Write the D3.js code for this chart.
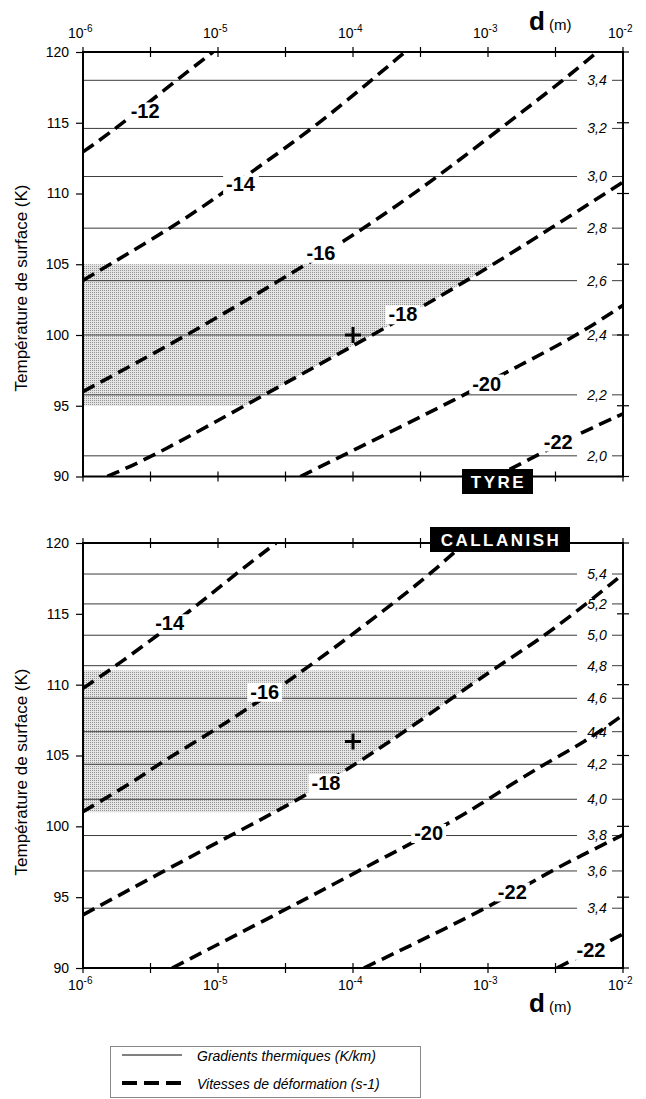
<!DOCTYPE html>
<html>
<head>
<meta charset="utf-8">
<script src="https://cdnjs.cloudflare.com/ajax/libs/d3/7.8.5/d3.min.js"></script>
<style>
  body { margin: 0; background: #fff; }
  svg { display: block; font-family: "Liberation Sans", Arial, Helvetica, sans-serif; }
</style>
</head>
<body>
<div id="chart"></div>
<script>
// axes: exponents of d (m), temperatures (K)
const decades = [-6, -5, -4, -3, -2];
const halfDecades = [-5.5, -4.5, -3.5, -2.5];
const tempTicks = [90, 95, 100, 105, 110, 115, 120];

// TYRE : gradients thermiques (K/km)
const tyreGradT = [118.0, 114.6, 111.2, 107.55, 103.84, 100.0, 95.77, 91.46];
const tyreGradLabels = ["3,4", "3,2", "3,0", "2,8", "2,6", "2,4", "2,2", "2,0"];
// TYRE : vitesses de deformation, [log10 d, T]
const tyreRates = ["-12", "-14", "-16", "-18", "-20", "-22"];
const tyreCurves = [
  [[-6, 112.94], [-5.753, 114.6], [-5.259, 118.37], [-5.037, 120]],
  [[-6, 103.86], [-5.333, 107.64], [-4.987, 109.88], [-4.716, 111.77], [-4.296, 114.6], [-3.876, 117.9], [-3.615, 120]],
  [[-6, 96.0], [-5.24, 99.9], [-4.543, 103.86], [-4.05, 106.7], [-3.654, 109.29], [-3.37, 111.2], [-2.44, 118.0], [-2.19, 120]],
  [[-5.82, 90], [-5.46, 91.5], [-4.66, 95.77], [-3.87, 99.9], [-3.15, 103.84], [-2.53, 107.57], [-2.0, 110.8]],
  [[-4.39, 90], [-4.08, 91.46], [-3.17, 95.77], [-2.77, 97.85], [-2.35, 99.9], [-2.0, 102.1]],
  [[-2.84, 90.5], [-2.615, 91.6], [-2.33, 93.0], [-2.0, 94.43]]
];
const tyreRateLabelAt = [[-5.54, 115.8], [-4.833, 110.66], [-4.237, 105.81], [-3.63, 101.46], [-3.01, 96.57], [-2.48, 92.47]];
const tyreShade = [95, 105];
const tyrePoint = [-4, 100];

// CALLANISH
const callGradT = [117.81, 115.7, 113.49, 111.34, 109.04, 106.68, 104.38, 101.91, 99.35, 96.85, 94.22];
const callGradLabels = ["5,4", "5,2", "5,0", "4,8", "4,6", "4,4", "4,2", "4,0", "3,8", "3,6", "3,4"];
const callRates = ["-14", "-16", "-18", "-20", "-22", "-22"];
const callCurves = [
  [[-6, 109.75], [-5.778, 111.16], [-5.21, 115.15], [-4.864, 117.86], [-4.57, 120]],
  [[-6, 101.04], [-5.605, 103.27], [-5.432, 104.45], [-5.062, 106.57], [-4.815, 108.1], [-4.481, 110.21], [-4.025, 113.39], [-3.654, 116.1], [-3.43, 117.81], [-3.17, 120]],
  [[-6, 93.75], [-5.40, 96.85], [-4.907, 99.35], [-4.36, 102.1], [-4.05, 103.98], [-3.63, 106.57], [-2.93, 111.34], [-2.56, 113.5], [-2.0, 117.8]],
  [[-5.34, 90], [-4.48, 94.22], [-3.96, 96.85], [-3.26, 100.33], [-3.0, 101.91], [-2.59, 104.38], [-2.29, 105.9], [-2.0, 107.86]],
  [[-3.92, 90], [-3.0, 94.22], [-2.59, 96.57], [-2.3, 97.98], [-2.0, 99.4]],
  [[-2.49, 90], [-2.0, 92.4]]
];
const callRateLabelAt = [[-5.358, 114.33], [-4.654, 109.5], [-4.2, 103.06], [-3.44, 99.53], [-2.82, 95.4], [-2.237, 91.28]];
const callShade = [101, 111];
const callPoint = [-4, 105.98];

const legendItems = ["Gradients thermiques (K/km)", "Vitesses de déformation (s-1)"];

const width = 646, height = 1099;
const svg = d3.select("#chart").append("svg").attr("width", width).attr("height", height);

const defs = svg.append("defs");
const pat = defs.append("pattern").attr("id", "dots")
  .attr("patternUnits", "userSpaceOnUse").attr("width", 2).attr("height", 2);
pat.append("rect").attr("width", 2).attr("height", 2).attr("fill", "#e4e4e4");
pat.append("rect").attr("width", 1).attr("height", 1).attr("fill", "#949494");

const x = d3.scaleLog().domain([1e-6, 1e-2]).range([83, 623]);
const yTop = d3.scaleLinear().domain([90, 120]).range([476.5, 52]);
const yBot = d3.scaleLinear().domain([90, 120]).range([968, 543]);

function drawPanel(y, o) {
  const [x0, x1] = x.range();
  const [yb, yt] = y.range();
  const g = svg.append("g");
  const line = d3.line().x(p => x(10 ** p[0])).y(p => y(p[1])).curve(d3.curveBasis);

  defs.append("clipPath").attr("id", "clip-" + o.id)
    .append("rect").attr("x", x0).attr("y", yt).attr("width", x1 - x0).attr("height", yb - yt);

  // zone grisee : entre les deux temperatures, a gauche de la courbe -18
  const region = line(o.curves[o.shadeEdge]) + `L${x1},${yt}L${x0},${yt}L${x0},${yb}Z`;
  defs.append("clipPath").attr("id", "shade-" + o.id).append("path").attr("d", region);
  g.append("rect")
    .attr("x", x0).attr("width", x1 - x0)
    .attr("y", y(o.shade[1])).attr("height", y(o.shade[0]) - y(o.shade[1]))
    .attr("fill", "url(#dots)")
    .attr("clip-path", `url(#shade-${o.id})`);

  // gradients thermiques
  o.grad.forEach((t, i) => {
    g.append("path")
      .attr("d", `M${x0},${y(t)}H577M612,${y(t)}H${x1}`)
      .attr("stroke", "#3a3a3a").attr("stroke-width", 1).attr("fill", "none");
    g.append("text")
      .attr("x", 597).attr("y", y(t)).attr("dy", "0.35em")
      .attr("text-anchor", "middle")
      .style("font-size", "14px").style("font-style", "italic")
      .text(o.gradLabels[i]);
  });

  // vitesses de deformation
  g.append("g").attr("clip-path", `url(#clip-${o.id})`)
    .selectAll("path").data(o.curves).join("path")
    .attr("d", line)
    .attr("fill", "none").attr("stroke", "#000")
    .attr("stroke-width", 3.6).attr("stroke-dasharray", "13,7");

  o.rates.forEach((r, i) => {
    const p = o.rateAt[i];
    const lg = g.append("g");
    const t = lg.append("text")
      .attr("x", x(10 ** p[0])).attr("y", y(p[1])).attr("dy", "0.35em")
      .attr("text-anchor", "middle")
      .style("font-size", "20px").style("font-weight", "bold")
      .text(r);
    const b = t.node().getBBox();
    lg.insert("rect", "text")
      .attr("x", b.x - 3).attr("y", b.y + 2).attr("width", b.width + 6).attr("height", b.height - 3)
      .attr("fill", "#fff");
  });

  // point
  const cx = x(10 ** o.point[0]), cy = y(o.point[1]);
  g.append("path").attr("d", `M${cx - 8},${cy}h16M${cx},${cy - 8}v16`)
    .attr("stroke", "#000").attr("stroke-width", 3);

  // cadre
  g.append("rect").attr("x", x0).attr("y", yt).attr("width", x1 - x0).attr("height", yb - yt)
    .attr("fill", "none").attr("stroke", "#000").attr("stroke-width", 2);

  // graduations
  const xt = decades.concat(halfDecades).map(e => x(10 ** e));
  [yt, yb].forEach(yy => {
    g.append("g").selectAll("line").data(xt).join("line")
      .attr("x1", d => d).attr("x2", d => d).attr("y1", yy - 5).attr("y2", yy + 5)
      .attr("stroke", "#000").attr("stroke-width", 1.2);
  });
  g.append("g").selectAll("line").data(tempTicks).join("line")
    .attr("x1", x1 - 6).attr("x2", x1 + 6).attr("y1", d => y(d)).attr("y2", d => y(d))
    .attr("stroke", "#000").attr("stroke-width", 1.2);

  const ax = g.append("g").attr("transform", `translate(${x0},0)`)
    .call(d3.axisLeft(y).tickValues(tempTicks).tickSize(7).tickPadding(7).tickSizeOuter(0));
  ax.select(".domain").remove();
  ax.selectAll("line").attr("stroke-width", 1.2);
  ax.selectAll("text").style("font-size", "14px").style("font-family", "inherit");

  // etiquettes de d
  const top = o.labelSide === "top";
  const base = top ? yt - 14 : yb + 22;
  decades.forEach(e => {
    const t = g.append("text").attr("x", x(10 ** e) - 15).attr("y", base).style("font-size", "14px");
    t.append("tspan").text("10");
    t.append("tspan").attr("dy", -6).style("font-size", "10px").text(String(e));
  });
  const dl = g.append("text").attr("x", 529).attr("y", top ? 30 : 1012);
  dl.append("tspan").style("font-size", "26px").style("font-weight", "bold").text("d");
  dl.append("tspan").attr("dx", 4).style("font-size", "15px").text("(m)");

  // titre de l'axe vertical
  g.append("text")
    .attr("transform", `translate(27,${o.titleY}) rotate(-90)`)
    .attr("text-anchor", "middle")
    .style("font-size", "17px")
    .text("Température de surface (K)");

  // etiquette du site
  g.append("rect").attr("x", o.box[0]).attr("y", o.box[1]).attr("width", o.box[2]).attr("height", o.box[3])
    .attr("fill", "#000");
  g.append("text")
    .attr("x", o.box[0] + o.box[2] / 2 + 1).attr("y", o.box[1] + o.box[3] / 2).attr("dy", "0.36em")
    .attr("text-anchor", "middle")
    .attr("fill", "#fff")
    .style("font-size", "17px").style("font-weight", "bold").style("letter-spacing", "2.5px")
    .text(o.name);
}

drawPanel(yTop, {
  id: "tyre", name: "TYRE", grad: tyreGradT, gradLabels: tyreGradLabels,
  rates: tyreRates, curves: tyreCurves, rateAt: tyreRateLabelAt,
  shade: tyreShade, shadeEdge: 3, point: tyrePoint,
  labelSide: "top", titleY: 288, box: [462, 469, 71, 25]
});
drawPanel(yBot, {
  id: "call", name: "CALLANISH", grad: callGradT, gradLabels: callGradLabels,
  rates: callRates, curves: callCurves, rateAt: callRateLabelAt,
  shade: callShade, shadeEdge: 2, point: callPoint,
  labelSide: "bottom", titleY: 772, box: [430, 527, 140, 25]
});

// legende
const leg = svg.append("g");
leg.append("rect").attr("x", 110.5).attr("y", 1046.5).attr("width", 310).attr("height", 51)
  .attr("fill", "#fff").attr("stroke", "#888").attr("stroke-width", 1);
leg.append("line").attr("x1", 122).attr("x2", 182).attr("y1", 1055).attr("y2", 1055)
  .attr("stroke", "#000").attr("stroke-width", 1);
leg.append("line").attr("x1", 122).attr("x2", 182).attr("y1", 1083).attr("y2", 1083)
  .attr("stroke", "#000").attr("stroke-width", 4).attr("stroke-dasharray", "15,7");
legendItems.forEach((s, i) => {
  leg.append("text").attr("x", 197).attr("y", 1060 + i * 28).attr("dy", "0.1em")
    .style("font-size", "14px").style("font-style", "italic").text(s);
});
</script>
</body>
</html>
